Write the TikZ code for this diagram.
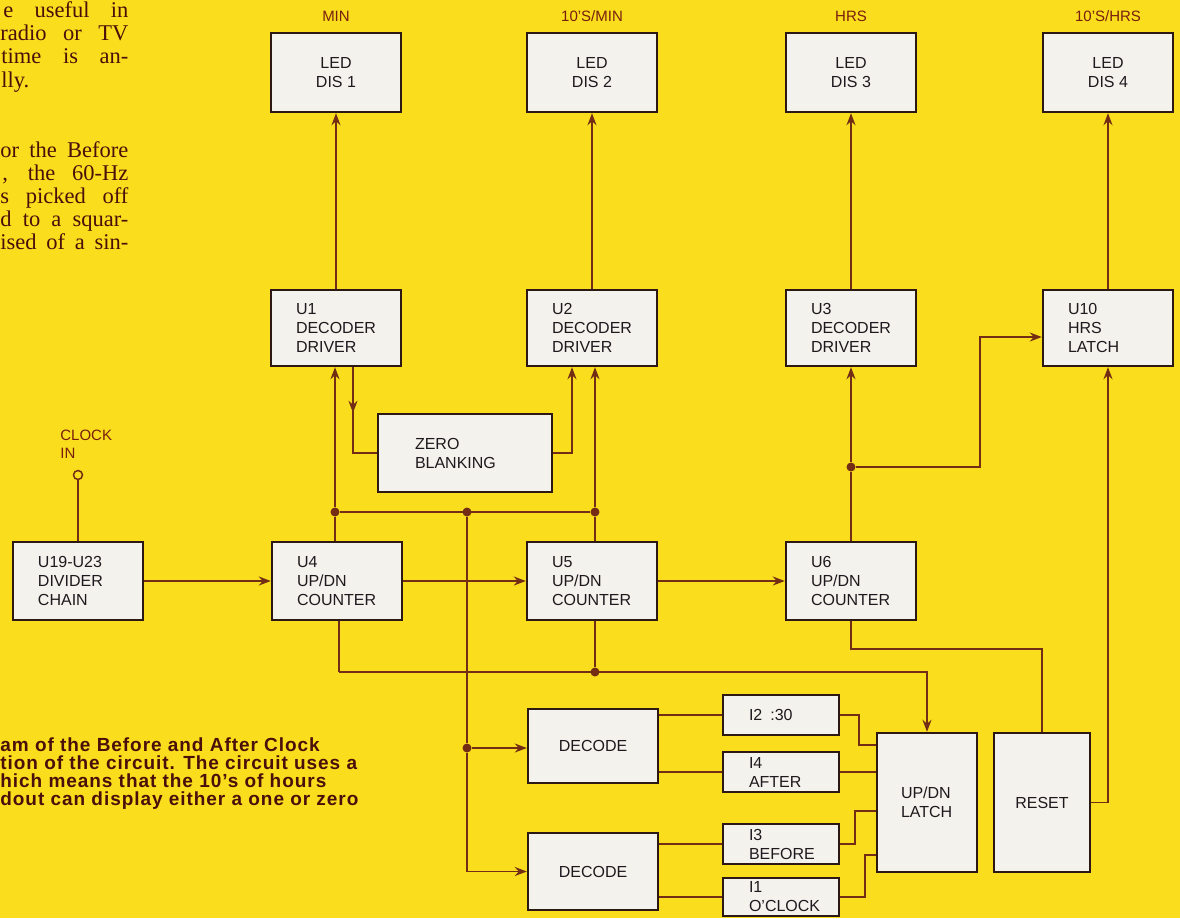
\documentclass[tikz,border=0pt]{standalone}
\usepackage{fontspec}
\setmainfont{Liberation Serif}
\setsansfont{Liberation Sans}
\newfontfamily\capfamily{Liberation Sans}[LetterSpace=5.0, Ligatures=TeX]
\usepackage{tikz}
\usetikzlibrary{arrows.meta, positioning}

\definecolor{bgyellow}{RGB}{250,222,30}
\definecolor{boxfill}{RGB}{244,242,236}
\definecolor{boxline}{RGB}{45,25,20}
\definecolor{wirebrown}{RGB}{115,45,20}
\definecolor{lblred}{RGB}{120,30,15}
\definecolor{inktext}{RGB}{30,25,30}
\definecolor{pagetext}{RGB}{75,15,10}

\newcommand{\blkfont}{\sffamily\fontsize{8}{9.5}\selectfont}
\newcommand{\lblfont}{\sffamily\fontsize{7.5}{9}\selectfont}
\newcommand{\pagefont}{\rmfamily\fontsize{11.25}{11.5}\selectfont}
\newcommand{\captxtfont}{\capfamily\bfseries\fontsize{9.5}{9}\selectfont}

\begin{document}
\begin{tikzpicture}[
    x=0.5pt, y=-0.5pt,
    box/.style={draw=boxline, fill=boxfill, line width=1.2pt, inner sep=0pt, font=\blkfont, text=inktext},
    ubox/.style={box, minimum width=65pt, minimum height=38pt, text width=40pt, align=left},
    ctr/.style={ubox, minimum height=39pt},
    ledbox/.style={box, minimum width=65pt, minimum height=39.5pt, align=center},
    ibox/.style={box, minimum width=58pt, minimum height=20pt, text width=32pt, align=left},
    lbl/.style={font=\lblfont, text=lblred, inner sep=0pt},
    pagetxt/.style={font=\pagefont, text=pagetext, inner sep=0pt},
    captxt/.style={font=\captxtfont, text=pagetext, inner sep=0pt},
    wire/.style={draw=wirebrown, line width=0.8pt},
    arr/.style={wire, -{Stealth[length=6pt, width=4.5pt]}},
    jdot/.style={circle, fill=wirebrown, inner sep=0pt, minimum size=4.5pt}
]
    % Page background
    \fill[bgyellow] (0,0) rectangle (1180,918);
    \useasboundingbox (0,0) rectangle (1180,918);

    % Body text of the page (cut at the left)
    \node[pagetxt, anchor=base west] (ta1) at (3,17) {\makebox[62.5pt][s]{e useful in}};
    \node[pagetxt, anchor=base west] (ta2) at (0,40) {\makebox[64pt][s]{radio or TV}};
    \node[pagetxt, anchor=base west] (ta3) at (1,63) {\makebox[63.5pt][s]{time is an-}};
    \node[pagetxt, anchor=base west] (ta4) at (1,87) {lly.};
    \node[pagetxt, anchor=base west] (tb1) at (0,157) {\makebox[64pt][s]{or the Before}};
    \node[pagetxt, anchor=base west] (tb2) at (2,180) {\makebox[63pt][s]{, the 60-Hz}};
    \node[pagetxt, anchor=base west] (tb3) at (0,203) {\makebox[64pt][s]{s picked off}};
    \node[pagetxt, anchor=base west] (tb4) at (0,226) {\makebox[64pt][s]{d to a squar-}};
    \node[pagetxt, anchor=base west] (tb5) at (0,249) {\makebox[64pt][s]{ised of a sin-}};

    % Caption
    \node[captxt, anchor=base west] (c1) at (0,751) {am of the Before and After Clock};
    \node[captxt, anchor=base west] (c2) at (0,769) {tion of the circuit. The circuit uses a};
    \node[captxt, anchor=base west] (c3) at (0,787) {hich means that the 10’s of hours};
    \node[captxt, anchor=base west] (c4) at (0,805) {dout can display either a one or zero};

    % Displays
    \node[ledbox] (led1) at (336,72.5) {LED\\DIS 1};
    \node[ledbox] (led2) at (592,72.5) {LED\\DIS 2};
    \node[ledbox] (led3) at (851,72.5) {LED\\DIS 3};
    \node[ledbox] (led4) at (1108,72.5) {LED\\DIS 4};
    \node[lbl, anchor=base] (tmin) at (336,21) {MIN};
    \node[lbl, anchor=base] (ttmin) at (592,21) {10'S/MIN};
    \node[lbl, anchor=base] (thrs) at (851,21) {HRS};
    \node[lbl, anchor=base] (tthrs) at (1108,21) {10'S/HRS};

    % Decoder drivers and latch
    \node[ubox] (u1) at (336,328) {U1\\DECODER\\DRIVER};
    \node[ubox] (u2) at (592,328) {U2\\DECODER\\DRIVER};
    \node[ubox] (u3) at (851,328) {U3\\DECODER\\DRIVER};
    \node[ubox] (u10) at (1108,328) {U10\\HRS\\LATCH};
    \node[box, minimum width=87pt, minimum height=39pt, text width=50pt, align=left] (zb) at (465,453) {ZERO\\BLANKING};

    % Counter chain
    \node[ctr] (div) at (78,581) {U19-U23\\DIVIDER\\CHAIN};
    \node[ctr] (u4) at (337,581) {U4\\UP/DN\\COUNTER};
    \node[ctr] (u5) at (592,581) {U5\\UP/DN\\COUNTER};
    \node[ctr] (u6) at (851,581) {U6\\UP/DN\\COUNTER};
    \node[circle, draw=wirebrown, fill=bgyellow, line width=0.75pt, inner sep=0pt, minimum size=4.5pt] (clk) at (78,475) {};
    \node[lbl, anchor=north west, align=left] (tclk) at (60,430) {CLOCK\\IN};

    % Before / after decoding
    \node[box, minimum width=65pt, minimum height=37pt] (dec1) at (593,746) {DECODE};
    \node[box, minimum width=65pt, minimum height=38.5pt] (dec2) at (593,871.5) {DECODE};
    \node[ibox] (i2) at (781,715) {I2\enspace:30};
    \node[ibox] (i4) at (781,772) {I4\\AFTER};
    \node[ibox] (i3) at (781,844) {I3\\BEFORE};
    \node[ibox, minimum height=19pt] (i1) at (781,897) {I1\\O'CLOCK};
    \node[box, minimum width=50pt, minimum height=69.5pt, text width=26pt, align=left] (latch) at (927,802.5) {UP/DN\\LATCH};
    \node[box, minimum width=48pt, minimum height=69.5pt] (reset) at (1042,802.5) {RESET};

    % Junctions
    \node[jdot] (j1) at (335,512) {};
    \node[jdot] (j2) at (467,512) {};
    \node[jdot] (j3) at (595,512) {};
    \node[jdot] (j4) at (467,748) {};
    \node[jdot] (j5) at (595,672) {};
    \node[jdot] (j6) at (851,467) {};
    \coordinate (b4) at (339,672);

    % Connections
    \draw[wire] (clk) -- (div);
    \draw[arr] (div) -- (u4);
    \draw[arr] (u4) -- (u5);
    \draw[arr] (u5) -- (u6);
    \foreach \a/\b in {u1/led1, u2/led2, u3/led3, u10/led4}
        \draw[arr] (\a) -- (\b);
    \draw[wire] (u4.north -| j1) -- (j1);
    \draw[arr] (j1) -- (u1.south -| j1);
    \draw[wire] (j1) -- (j3);
    \draw[wire] (u5.north -| j3) -- (j3);
    \draw[arr] (j3) -- (u2.south -| j3);
    \draw[arr] ([xshift=8.5pt]u1.south) -- ([xshift=8.5pt]u1.south |- zb.north);
    \draw[wire] ([xshift=8.5pt]u1.south) |- (zb.west);
    \draw[arr] (zb.east) -| ([xshift=-10pt]u2.south);
    \draw[wire] (j2) -- (j4);
    \draw[arr] (j4) -- (dec1.west |- j4);
    \draw[arr] (j4) |- (dec2.west);
    \draw[wire] (u4.south -| b4) -- (b4);
    \draw[arr] (b4) -| (latch.north);
    \draw[wire] (u5.south -| j5) -- (j5);
    \draw[wire] (u6.north) -- (j6);
    \draw[arr] (j6) -- (u3.south);
    \draw[arr] (j6) -- ++(129,0) |- ([yshift=-4.5pt]u10.west);
    \draw[wire] (u6.south) -- ++(0,28) -| (reset.north);
    \draw[arr] (reset.east) -| (u10.south);
    \draw[wire] (dec1.east |- i2) -- (i2);
    \draw[wire] (dec1.east |- i4) -- (i4);
    \draw[wire] (dec2.east |- i3) -- (i3);
    \draw[wire] (dec2.east |- i1) -- (i1);
    \draw[wire] (i2.east) -- ++(19,0) |- (latch.west |- 0,745);
    \draw[wire] (i4) -- (latch.west |- i4);
    \draw[wire] (i3.east) -- ++(15,0) |- (latch.west |- 0,811);
    \draw[wire] (i1.east) -- ++(25,0) |- (latch.west |- 0,855);
\end{tikzpicture}
\end{document}
